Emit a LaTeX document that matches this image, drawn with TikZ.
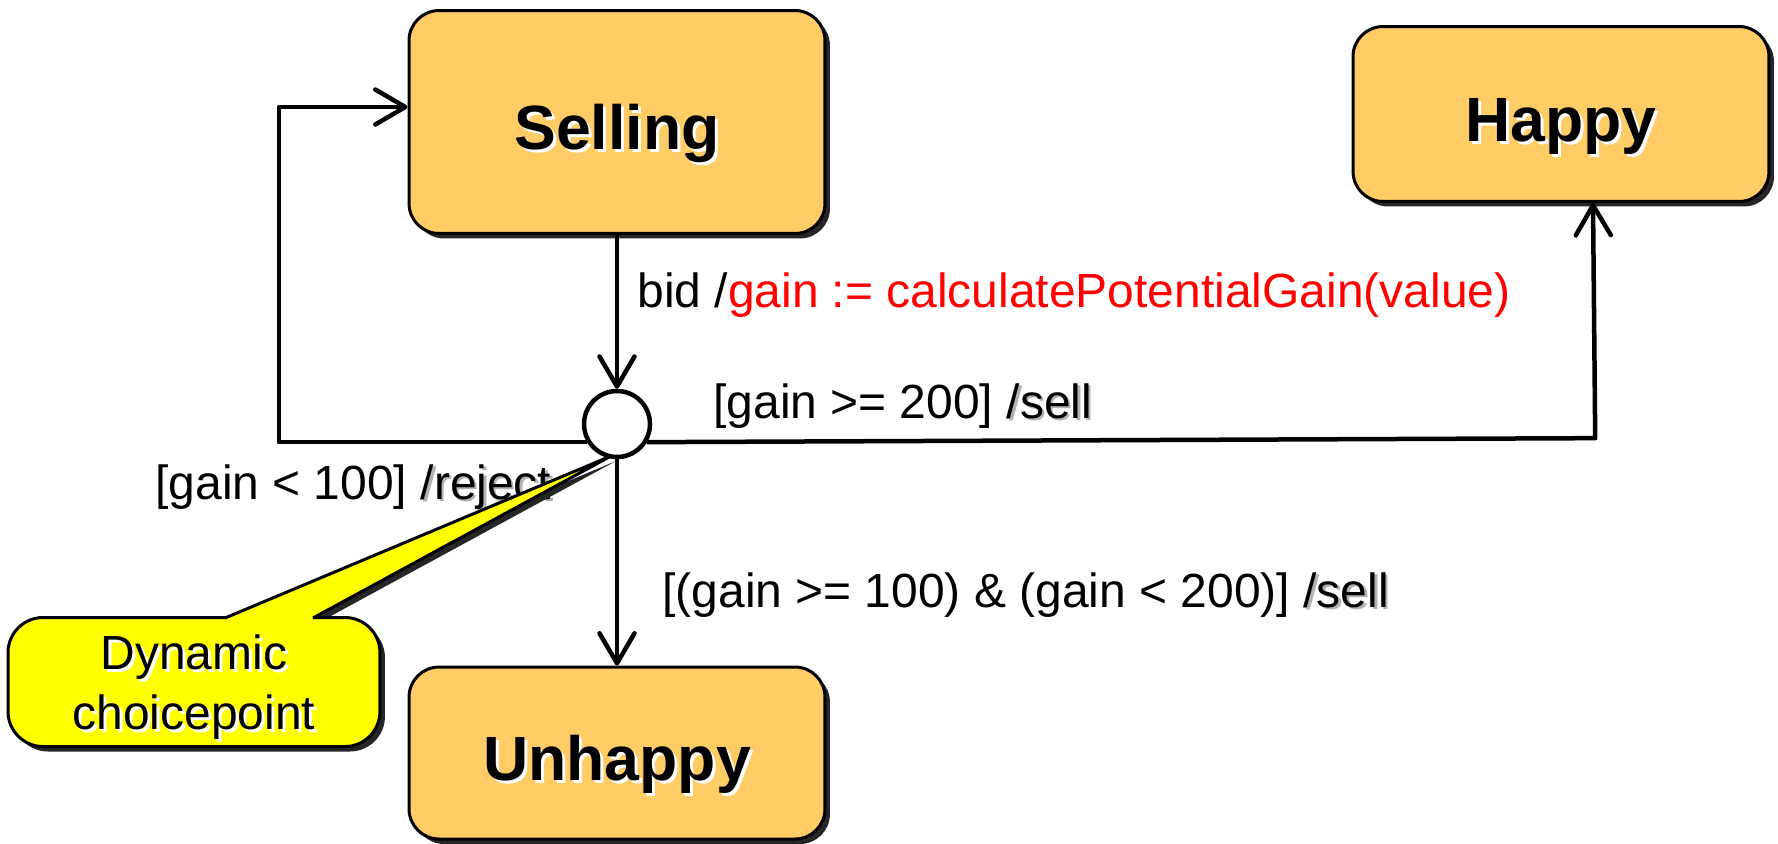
\documentclass[tikz,border=0pt]{standalone}
\usepackage{fontspec}
\setmainfont{Liberation Sans}
\usepackage{tikz}
\usetikzlibrary{positioning,arrows.meta,shadows}
\usepackage{xcolor}
\definecolor{stateorange}{RGB}{255,204,102}
\definecolor{noteyellow}{RGB}{255,255,0}
\newcommand{\whitesh}[1]{\makebox[0pt][l]{\kern0.06cm\raisebox{-0.06cm}{\color{white}#1}}#1}
\newcommand{\graysh}[1]{\makebox[0pt][l]{\kern0.05cm\raisebox{-0.05cm}{\color{black!30}#1}}#1}

\begin{document}
\begin{tikzpicture}[x=0.02cm,y=-0.02cm,
  state/.style={draw,line width=0.06cm,rounded corners=0.6cm,fill=stateorange,
    minimum width=8.32cm,text height=1.1cm,text depth=0pt,
    font=\fontsize{35.6}{40}\selectfont\bfseries,
    drop shadow={shadow xshift=0.1cm,shadow yshift=-0.1cm,fill=black!85,opacity=1}},
  choicept/.style={circle,draw,line width=0.09cm,fill=white,minimum size=1.32cm,inner sep=0pt},
  trans/.style={line width=0.09cm,line join=round,
    -{Straight Barb[length=0.6cm,width=0.7cm,line cap=round,line join=round]}},
  guard/.style={font=\fontsize{27.3}{33}\selectfont,anchor=west,inner sep=0pt},
  notebox/.style={draw,line width=0.06cm,fill=noteyellow,rounded corners=0.7cm,
    minimum width=7.44cm,minimum height=2.58cm,align=center,text depth=0pt,
    font=\fontsize{27.3}{33.8}\selectfont,
    drop shadow={shadow xshift=0.1cm,shadow yshift=-0.1cm,fill=black!85,opacity=1}}]
\useasboundingbox (0,0) rectangle (1778,843);

% States
\node[state,minimum height=4.46cm] (selling) at (617,122) {\whitesh{Selling}};
\node[state,minimum height=3.5cm] (happy) at (1561,114) {\whitesh{Happy}};
\node[state,minimum height=3.44cm] (unhappy) at (617,753) {\whitesh{Unhappy}};

% Transition labels
\node[guard] (bidlbl) at (637,295) {bid /\textcolor{red}{gain := calculatePotentialGain(value)}};
\node[guard] (highlbl) at (713,406) {[gain >= 200] \graysh{/sell}};
\node[guard] (lowlbl) at (155,488) {[gain < 100] \graysh{/reject}};
\node[guard] (midlbl) at (662,595) {[(gain >= 100) \& (gain < 200)] \graysh{/sell}};

% Callout
\fill[black!85,shift={(5,5)}] (225,618) -- (611,456) -- (313,618) -- cycle;
\node[notebox] (note) at (194,682) {\whitesh{Dynamic}\\\whitesh{choicepoint}};
\fill[noteyellow] (225,618) -- (611,456) -- (313,618) -- (313,622) -- (225,622) -- cycle;
\draw[line width=0.06cm,line join=round] (225,618) -- (611,456) -- (313,618);

% Choice point
\node[choicept] (choice) at (617,424) {};

% Transitions
\draw[trans] (selling) -- (choice);
\draw[trans] (choice) -- (unhappy);
\draw[trans] (choice.211) -- ++(-308,0) |- ([yshift=0.3cm]selling.west);
\draw[trans] (choice.329) -- ++(948,-4) -- ([xshift=0.64cm]happy.south);
\end{tikzpicture}
\end{document}
